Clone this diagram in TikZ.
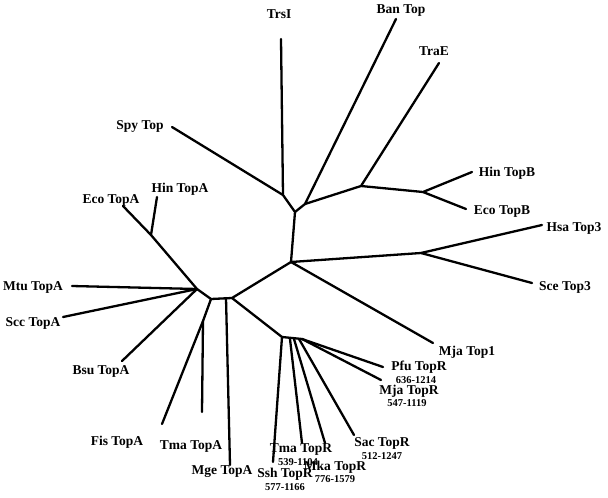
\documentclass[tikz,border=0pt]{standalone}
\usepackage{fontspec}
\setmainfont{Liberation Serif}
\begin{document}
\begin{tikzpicture}[x=1pt,y=-1pt,
  br/.style={line width=2.3pt,line cap=round,line join=round},
  lab/.style={font=\bfseries\fontsize{13.5}{14}\selectfont,inner sep=0pt},
  rng/.style={font=\bfseries\fontsize{10.5}{11}\selectfont,inner sep=0pt}]
\useasboundingbox (0,0) rectangle (608,498);
\coordinate (C) at (291,262);
\coordinate (U) at (295,212);
\coordinate (T) at (283,195);
\coordinate (B) at (305,204);
\coordinate (E) at (361,186);
\coordinate (H) at (423,192);
\coordinate (S) at (421,253);
\coordinate (L) at (197,289);
\coordinate (L2) at (211,299);
\coordinate (L3) at (232,298);
\coordinate (F) at (203,321);
\coordinate (R) at (282,337);
\coordinate (R2) at (290,339);
\coordinate (R3) at (302,339);
\coordinate (K) at (151,235);
\coordinate (trsi) at (281,39);
\coordinate (spy) at (172,127);
\coordinate (ban) at (396,19);
\coordinate (trae) at (439,63);
\coordinate (hinb) at (472,172);
\coordinate (ecob) at (466,209);
\coordinate (hsa) at (542,225);
\coordinate (sce) at (532,283);
\coordinate (mja1) at (433,343);
\coordinate (ecoa) at (123,206);
\coordinate (hina) at (157,197);
\coordinate (mtu) at (72,286);
\coordinate (scc) at (63,317);
\coordinate (bsu) at (122,361);
\coordinate (fis) at (162,424);
\coordinate (tmaa) at (202,412);
\coordinate (mge) at (230,465);
\coordinate (ssh) at (273,462);
\coordinate (tmar) at (302,443);
\coordinate (mka) at (325,443);
\coordinate (sac) at (354,435);
\coordinate (pfu) at (383,367);
\coordinate (mjar) at (381,380);
\draw[br] (C) -- (U) -- (T) -- (trsi);
\draw[br] (T) -- (spy);
\draw[br] (U) -- (B) -- (ban);
\draw[br] (B) -- (E) -- (trae);
\draw[br] (E) -- (H) -- (hinb);
\draw[br] (H) -- (ecob);
\draw[br] (C) -- (S) -- (hsa);
\draw[br] (S) -- (sce);
\draw[br] (C) -- (mja1);
\draw[br] (C) -- (L3) -- (L2) -- (L);
\draw[br] (L) -- (K) -- (ecoa);
\draw[br] (K) -- (hina);
\draw[br] (L) -- (mtu);
\draw[br] (L) -- (scc);
\draw[br] (L) -- (bsu);
\draw[br] (L2) -- (F) -- (fis);
\draw[br] (F) -- (tmaa);
\draw[br] (226,298) -- (mge);
\draw[br] (L3) -- (R) -- (R3);
\draw[br] (R) -- (ssh);
\draw[br] (R2) -- (tmar);
\draw[br] (294,339) -- (mka);
\draw[br] (299,339) -- (sac);
\draw[br] (R3) -- (pfu);
\draw[br] (R3) -- (mjar);
\node[lab] (lTrsI) at (279,14) {TrsI};
\node[lab] (lBan) at (401,11) {Ban Top};
\node[lab] (lTraE) at (434,51) {TraE};
\node[lab] (lSpy) at (140,126) {Spy Top};
\node[lab] (lHinB) at (507,173) {Hin TopB};
\node[lab] (lEcoB) at (502,212) {Eco TopB};
\node[lab] (lHsa) at (574,228) {Hsa Top3};
\node[lab] (lSce) at (565,287) {Sce Top3};
\node[lab] (lMja1) at (467,352) {Mja Top1};
\node[lab] (lEcoA) at (111,200) {Eco TopA};
\node[lab] (lHinA) at (180,189) {Hin TopA};
\node[lab] (lMtu) at (33,287) {Mtu TopA};
\node[lab] (lScc) at (33,323) {Scc TopA};
\node[lab] (lBsu) at (101,371) {Bsu TopA};
\node[lab] (lFis) at (117,442) {Fis TopA};
\node[lab] (lTmaA) at (191,446) {Tma TopA};
\node[lab] (lMge) at (222,472) {Mge TopA};
\node[lab] (lSsh) at (285,474) {Ssh TopR};
\node[rng] (rSsh) at (285,487) {577-1166};
\node[lab] (lTmaR) at (301,450) {Tma TopR};
\node[rng] (rTmaR) at (298,462) {539-1104};
\node[lab] (lMka) at (335,467) {Mka TopR};
\node[rng] (rMka) at (335,479) {776-1579};
\node[lab] (lSac) at (382,443) {Sac TopR};
\node[rng] (rSac) at (382,456) {512-1247};
\node[lab] (lPfu) at (419,367) {Pfu TopR};
\node[rng] (rPfu) at (416,380) {636-1214};
\node[lab] (lMjaR) at (409,391) {Mja TopR};
\node[rng] (rMjaR) at (407,403) {547-1119};
\end{tikzpicture}
\end{document}
